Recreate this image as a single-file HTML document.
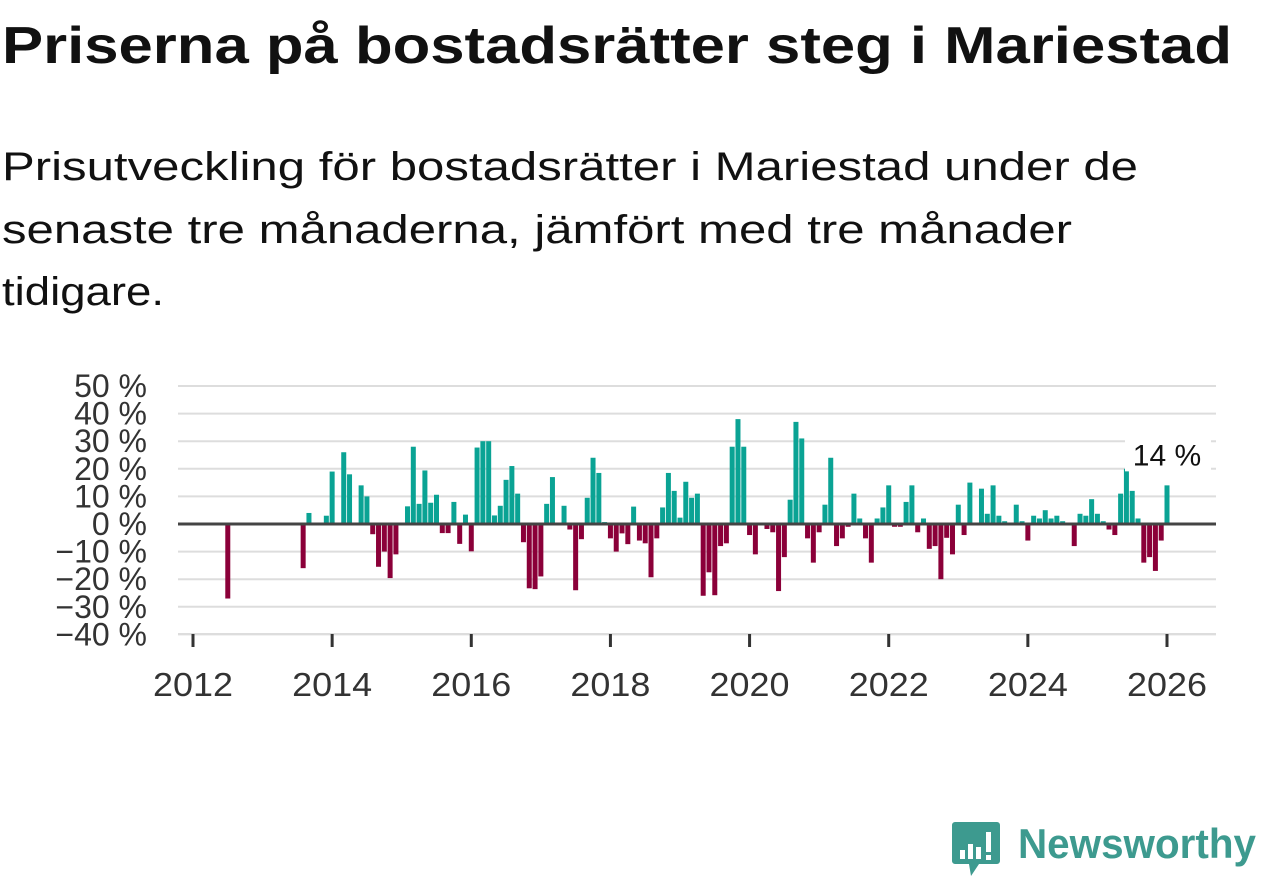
<!DOCTYPE html>
<html><head><meta charset="utf-8"><style>
html,body{margin:0;padding:0;background:#fff;}
svg{display:block;font-family:"Liberation Sans","DejaVu Sans",sans-serif;}
</style></head><body>
<svg id="chart" width="1262" height="879" viewBox="0 0 1262 879">
<text x="2" y="63" font-size="52" font-weight="bold" fill="#111" textLength="1230" lengthAdjust="spacingAndGlyphs">Priserna på bostadsrätter steg i Mariestad</text>
<g font-size="40" fill="#111">
<text x="2" y="180" textLength="1136" lengthAdjust="spacingAndGlyphs">Prisutveckling för bostadsrätter i Mariestad under de</text>
<text x="2" y="243" textLength="1070" lengthAdjust="spacingAndGlyphs">senaste tre månaderna, jämfört med tre månader</text>
<text x="2" y="305" textLength="162" lengthAdjust="spacingAndGlyphs">tidigare.</text>
</g>
<g id="grid"></g>
<g id="yticks"></g>
<g id="xaxis"></g>
<g id="bars"></g>
<line x1="178" x2="1216" y1="524" y2="524" stroke="#444" stroke-width="3"/>
<g id="annot"></g>
<g>
<path d="M955 822 h42 a3 3 0 0 1 3 3 v36 a3 3 0 0 1 -3 3 h-18 l-8 12 l-2 -12 h-14 a3 3 0 0 1 -3 -3 v-36 a3 3 0 0 1 3 -3z" fill="#3d9a8f"/>
<rect x="960" y="850" width="5" height="9" fill="#fff"/>
<rect x="968" y="844" width="5" height="15" fill="#fff"/>
<rect x="976" y="847" width="5" height="12" fill="#fff"/>
<rect x="986" y="832" width="5" height="20" fill="#fff"/>
<rect x="986" y="855" width="5" height="5" fill="#fff"/>
<text x="1018" y="858" font-size="42" font-weight="bold" fill="#3d9a8f" textLength="238" lengthAdjust="spacingAndGlyphs">Newsworthy</text>
</g>
</svg>
<script>
const startYear = 2012;
const values = [
null,null,null,null,null,null,-27,null,null,null,null,null,
null,null,null,null,null,null,null,-16,4,0,null,3,
19,0,26,18,0,14,10,-3.7,-15.5,-10,-19.6,-11,
0,6.4,28,7.3,19.4,7.7,10.6,-3.3,-3.3,8,-7.2,3.4,
-9.9,27.7,30,30,3.1,6.6,16,21,11,-6.6,-23.3,-23.6,
-19,7.3,17,0,6.6,-2,-24,-5.5,9.5,24,18.5,0.7,
-5.2,-10,-3.4,-7.3,6.3,-6,-7,-19.3,-5.2,6,18.5,12,
2.3,15.3,9.5,11,-26,-17.5,-25.8,-8,-7,28,38,28,
-4,-11,0,-1.8,-3,-24.3,-12,8.8,37,31,-5.2,-14,
-3,7,24,-8,-5.2,-1,11,2,-5.2,-14,2,6,
14,-1,-1,8,14,-3,2,-9,-8,-20,-5,-11,
7,-4,15,0.4,12.8,3.7,14,3,1,0.5,7,1,
-6,3,2,5,2,3,1,0.3,-8,3.7,3,9,
3.7,1,-2,-4,11,20,12,2,-14,-12,-17,-6,
14
];
const yTicks = [50,40,30,20,10,0,-10,-20,-30,-40];
const xTicks = [2012,2014,2016,2018,2020,2022,2024,2026];
const lastLabel = "14 %";

const NS = "http://www.w3.org/2000/svg";
const x0 = 193, pxPerYear = (1167-193)/14;
const xScale = m => x0 + m * pxPerYear / 12;
const yScale = v => 524 - v * 2.76;
function mk(tag, attrs, parent){const e=document.createElementNS(NS,tag);for(const k in attrs)e.setAttribute(k,attrs[k]);parent.appendChild(e);return e;}

const grid = document.getElementById('grid');
const yt = document.getElementById('yticks');
yTicks.forEach(t=>{
  const l = mk('line',{x1:178,x2:1216,y1:yScale(t),y2:yScale(t),stroke:'#ddd','stroke-width':2},grid);
  
  
  const tx = mk('text',{x:147,y:yScale(t)+11,'font-size':32,'text-anchor':'end',fill:'#333'},yt);
  tx.textContent = (t<0?'\u2212'+(-t):t) + ' %';
  
  
});
const xa = document.getElementById('xaxis');
const base = mk('line',{x1:178,x2:1216,y1:634,y2:634,stroke:'#ddd','stroke-width':2},xa);


xTicks.forEach(y=>{
  const x = xScale((y-startYear)*12);
  const tk = mk('line',{x1:x,x2:x,y1:634,y2:647,stroke:'#333','stroke-width':3},xa);
  
  
  const tx = mk('text',{x:x,y:696,'font-size':33,'text-anchor':'middle',fill:'#333',textLength:80,lengthAdjust:'spacingAndGlyphs'},xa);
  tx.textContent = y;
  
  
});
const bars = document.getElementById('bars');
values.forEach((v,m)=>{
  if(v===null||v===0) return;
  const x = xScale(m)-2.5;
  const y1 = Math.min(yScale(v),524), h = Math.abs(yScale(v)-524);
  const r = mk('rect',{x:x,y:y1,width:5,height:h,fill:v>0?'#0aa394':'#8b0039'},bars);
  
  
});
const an = document.getElementById('annot');
const lm = values.length-1;
const lx = xScale(lm);
const bg = mk('rect',{x:lx-42,y:yScale(values[lm])-50,width:86,height:36,fill:'#fff'},an);


const lt = mk('text',{x:lx,y:yScale(values[lm])-20,'font-size':30,'text-anchor':'middle',fill:'#111'},an);
lt.textContent = lastLabel;


</script>
</body></html>
